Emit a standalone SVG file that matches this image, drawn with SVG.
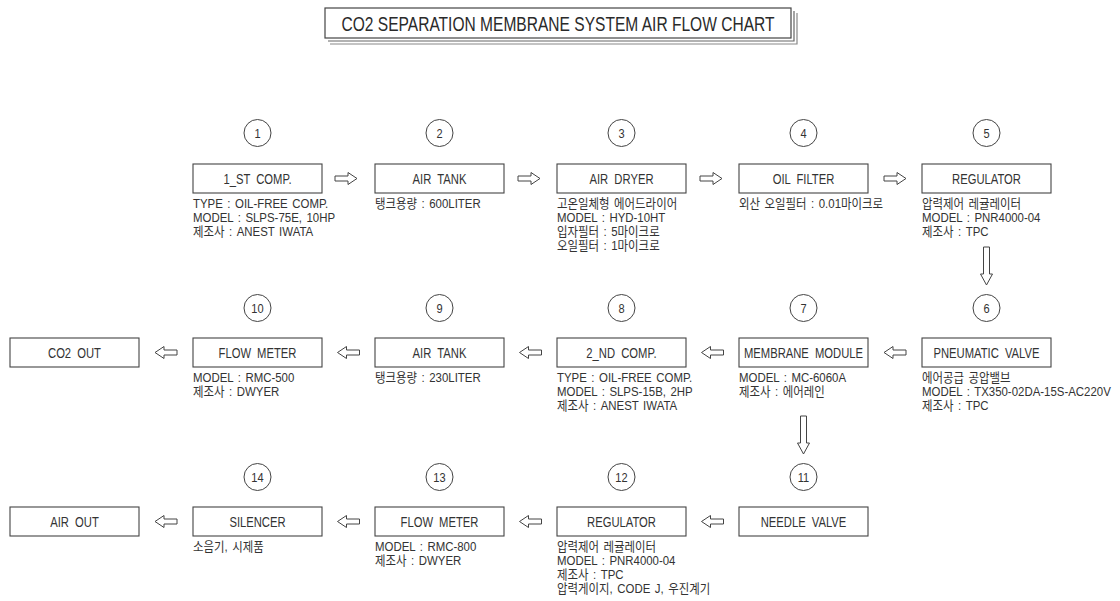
<svg xmlns="http://www.w3.org/2000/svg" xmlns:xlink="http://www.w3.org/1999/xlink" width="1120" height="601" viewBox="0 0 1120 601">
<style>
  text { font-family: "Liberation Sans", "Noto Sans CJK KR", sans-serif; fill: #333; }
  .box { fill: #fff; stroke: #444; stroke-width: 1.1; }
  .num { fill: #fff; stroke: #444; stroke-width: 1; }
  .lbl { font-size: 15px; text-anchor: middle; word-spacing: 4px; }
  .n { font-size: 13px; text-anchor: middle; }
  .det { font-size: 13px; word-spacing: 1.5px; }
  .arr { fill: #fff; stroke: #444; stroke-width: 1; stroke-linejoin: miter; }
  .title { font-size: 21px; text-anchor: middle; fill: #2a2a2a; }
</style>
<defs>
  <path id="arrowR" d="M-11,-2.5 H2 V-6 L11,0 L2,6 V2.5 H-11 Z"/>
  <path id="arrowD" d="M-3,-19 H3 V8 H6 L0,19 L-6,8 H-3 Z"/>
</defs>
<rect width="1120" height="601" fill="#fff"/>

<g id="title">
  <polyline points="328,41 794,41 794,11" fill="none" stroke="#666" stroke-width="1.2"/>
  <polyline points="330,44 797,44 797,13" fill="none" stroke="#888" stroke-width="1.2"/>
  <rect x="325" y="8" width="466" height="30" fill="#fff" stroke="#444" stroke-width="1.2"/>
  <text class="title" x="558" y="31" textLength="433" lengthAdjust="spacingAndGlyphs">CO2 SEPARATION MEMBRANE SYSTEM AIR FLOW CHART</text>
</g>

<g id="connectors">
  <use xlink:href="#arrowR" href="#arrowR" class="arr" transform="translate(346,178.5)"/>
  <use xlink:href="#arrowR" href="#arrowR" class="arr" transform="translate(529,178.5)"/>
  <use xlink:href="#arrowR" href="#arrowR" class="arr" transform="translate(711,178.5)"/>
  <use xlink:href="#arrowR" href="#arrowR" class="arr" transform="translate(895,178.5)"/>
  <use xlink:href="#arrowD" href="#arrowD" class="arr" transform="translate(986.5,266)"/>
  <use xlink:href="#arrowR" href="#arrowR" class="arr" transform="translate(895,352.5) rotate(180)"/>
  <use xlink:href="#arrowR" href="#arrowR" class="arr" transform="translate(712.5,352.5) rotate(180)"/>
  <use xlink:href="#arrowR" href="#arrowR" class="arr" transform="translate(530.5,352.5) rotate(180)"/>
  <use xlink:href="#arrowR" href="#arrowR" class="arr" transform="translate(348.5,352.5) rotate(180)"/>
  <use xlink:href="#arrowR" href="#arrowR" class="arr" transform="translate(166,352.5) rotate(180)"/>
  <use xlink:href="#arrowD" href="#arrowD" class="arr" transform="translate(803.5,435)"/>
  <use xlink:href="#arrowR" href="#arrowR" class="arr" transform="translate(712.5,521.5) rotate(180)"/>
  <use xlink:href="#arrowR" href="#arrowR" class="arr" transform="translate(530.5,521.5) rotate(180)"/>
  <use xlink:href="#arrowR" href="#arrowR" class="arr" transform="translate(348.5,521.5) rotate(180)"/>
  <use xlink:href="#arrowR" href="#arrowR" class="arr" transform="translate(166,521.5) rotate(180)"/>
</g>

<!-- Row 1 -->
<g id="n1">
  <circle class="num" cx="257.5" cy="133" r="13.5"/>
  <text class="n" transform="translate(257.5,138) scale(0.85,1)">1</text>
  <rect class="box" x="193" y="164" width="129" height="29"/>
  <text class="lbl" transform="translate(257.5,184) scale(0.75,1)">1_ST COMP.</text>
  <text class="det" transform="translate(193,208) scale(0.88,1)">TYPE : OIL-FREE COMP.</text>
  <text class="det" transform="translate(193,222) scale(0.88,1)">MODEL : SLPS-75E, 10HP</text>
  <text class="det" transform="translate(193,236) scale(0.88,1)">제조사 : ANEST IWATA</text>
</g>
<g id="n2">
  <circle class="num" cx="439.5" cy="133" r="13.5"/>
  <text class="n" transform="translate(439.5,138) scale(0.85,1)">2</text>
  <rect class="box" x="375" y="164" width="129" height="29"/>
  <text class="lbl" transform="translate(439.5,184) scale(0.75,1)">AIR TANK</text>
  <text class="det" transform="translate(375,208) scale(0.88,1)">탱크용량 : 600LITER</text>
</g>
<g id="n3">
  <circle class="num" cx="621.5" cy="133" r="13.5"/>
  <text class="n" transform="translate(621.5,138) scale(0.85,1)">3</text>
  <rect class="box" x="557" y="164" width="129" height="29"/>
  <text class="lbl" transform="translate(621.5,184) scale(0.75,1)">AIR DRYER</text>
  <text class="det" transform="translate(557,208) scale(0.88,1)">고온일체형 에어드라이어</text>
  <text class="det" transform="translate(557,222) scale(0.88,1)">MODEL : HYD-10HT</text>
  <text class="det" transform="translate(557,236) scale(0.88,1)">입자필터 : 5마이크로</text>
  <text class="det" transform="translate(557,250) scale(0.88,1)">오일필터 : 1마이크로</text>
</g>
<g id="n4">
  <circle class="num" cx="803.5" cy="133" r="13.5"/>
  <text class="n" transform="translate(803.5,138) scale(0.85,1)">4</text>
  <rect class="box" x="739" y="164" width="129" height="29"/>
  <text class="lbl" transform="translate(803.5,184) scale(0.75,1)">OIL FILTER</text>
  <text class="det" transform="translate(739,208) scale(0.88,1)">외산 오일필터 : 0.01마이크로</text>
</g>
<g id="n5">
  <circle class="num" cx="986.5" cy="133" r="13.5"/>
  <text class="n" transform="translate(986.5,138) scale(0.85,1)">5</text>
  <rect class="box" x="922" y="164" width="129" height="29"/>
  <text class="lbl" transform="translate(986.5,184) scale(0.75,1)">REGULATOR</text>
  <text class="det" transform="translate(922,208) scale(0.88,1)">압력제어 레귤레이터</text>
  <text class="det" transform="translate(922,222) scale(0.88,1)">MODEL : PNR4000-04</text>
  <text class="det" transform="translate(922,236) scale(0.88,1)">제조사 : TPC</text>
</g>

<!-- Row 2 -->
<g id="co2out">
  <rect class="box" x="10" y="338" width="129" height="29"/>
  <text class="lbl" transform="translate(74.5,358) scale(0.75,1)">CO2 OUT</text>
</g>
<g id="n10">
  <circle class="num" cx="257.5" cy="308" r="13.5"/>
  <text class="n" transform="translate(257.5,313) scale(0.85,1)">10</text>
  <rect class="box" x="193" y="338" width="129" height="29"/>
  <text class="lbl" transform="translate(257.5,358) scale(0.75,1)">FLOW METER</text>
  <text class="det" transform="translate(193,382) scale(0.88,1)">MODEL : RMC-500</text>
  <text class="det" transform="translate(193,396) scale(0.88,1)">제조사 : DWYER</text>
</g>
<g id="n9">
  <circle class="num" cx="439.5" cy="308" r="13.5"/>
  <text class="n" transform="translate(439.5,313) scale(0.85,1)">9</text>
  <rect class="box" x="375" y="338" width="129" height="29"/>
  <text class="lbl" transform="translate(439.5,358) scale(0.75,1)">AIR TANK</text>
  <text class="det" transform="translate(375,382) scale(0.88,1)">탱크용량 : 230LITER</text>
</g>
<g id="n8">
  <circle class="num" cx="621.5" cy="308" r="13.5"/>
  <text class="n" transform="translate(621.5,313) scale(0.85,1)">8</text>
  <rect class="box" x="557" y="338" width="129" height="29"/>
  <text class="lbl" transform="translate(621.5,358) scale(0.75,1)">2_ND COMP.</text>
  <text class="det" transform="translate(557,382) scale(0.88,1)">TYPE : OIL-FREE COMP.</text>
  <text class="det" transform="translate(557,396) scale(0.88,1)">MODEL : SLPS-15B, 2HP</text>
  <text class="det" transform="translate(557,410) scale(0.88,1)">제조사 : ANEST IWATA</text>
</g>
<g id="n7">
  <circle class="num" cx="803.5" cy="308" r="13.5"/>
  <text class="n" transform="translate(803.5,313) scale(0.85,1)">7</text>
  <rect class="box" x="739" y="338" width="129" height="29"/>
  <text class="lbl" transform="translate(803.5,358) scale(0.75,1)">MEMBRANE MODULE</text>
  <text class="det" transform="translate(739,382) scale(0.88,1)">MODEL : MC-6060A</text>
  <text class="det" transform="translate(739,396) scale(0.88,1)">제조사 : 에어레인</text>
</g>
<g id="n6">
  <circle class="num" cx="986.5" cy="308" r="13.5"/>
  <text class="n" transform="translate(986.5,313) scale(0.85,1)">6</text>
  <rect class="box" x="922" y="338" width="129" height="29"/>
  <text class="lbl" transform="translate(986.5,358) scale(0.75,1)">PNEUMATIC VALVE</text>
  <text class="det" transform="translate(922,382) scale(0.88,1)">에어공급 공압밸브</text>
  <text class="det" transform="translate(922,396) scale(0.88,1)">MODEL : TX350-02DA-15S-AC220V</text>
  <text class="det" transform="translate(922,410) scale(0.88,1)">제조사 : TPC</text>
</g>

<!-- Row 3 -->
<g id="airout">
  <rect class="box" x="10" y="507" width="129" height="29"/>
  <text class="lbl" transform="translate(74.5,527) scale(0.75,1)">AIR OUT</text>
</g>
<g id="n14">
  <circle class="num" cx="257.5" cy="477" r="13.5"/>
  <text class="n" transform="translate(257.5,482) scale(0.85,1)">14</text>
  <rect class="box" x="193" y="507" width="129" height="29"/>
  <text class="lbl" transform="translate(257.5,527) scale(0.75,1)">SILENCER</text>
  <text class="det" transform="translate(193,551) scale(0.88,1)">소음기, 시제품</text>
</g>
<g id="n13">
  <circle class="num" cx="439.5" cy="477" r="13.5"/>
  <text class="n" transform="translate(439.5,482) scale(0.85,1)">13</text>
  <rect class="box" x="375" y="507" width="129" height="29"/>
  <text class="lbl" transform="translate(439.5,527) scale(0.75,1)">FLOW METER</text>
  <text class="det" transform="translate(375,551) scale(0.88,1)">MODEL : RMC-800</text>
  <text class="det" transform="translate(375,565) scale(0.88,1)">제조사 : DWYER</text>
</g>
<g id="n12">
  <circle class="num" cx="621.5" cy="477" r="13.5"/>
  <text class="n" transform="translate(621.5,482) scale(0.85,1)">12</text>
  <rect class="box" x="557" y="507" width="129" height="29"/>
  <text class="lbl" transform="translate(621.5,527) scale(0.75,1)">REGULATOR</text>
  <text class="det" transform="translate(557,551) scale(0.88,1)">압력제어 레귤레이터</text>
  <text class="det" transform="translate(557,565) scale(0.88,1)">MODEL : PNR4000-04</text>
  <text class="det" transform="translate(557,579) scale(0.88,1)">제조사 : TPC</text>
  <text class="det" transform="translate(557,593) scale(0.88,1)">압력게이지, CODE J, 우진계기</text>
</g>
<g id="n11">
  <circle class="num" cx="803.5" cy="477" r="13.5"/>
  <text class="n" transform="translate(803.5,482) scale(0.85,1)">11</text>
  <rect class="box" x="739" y="507" width="129" height="29"/>
  <text class="lbl" transform="translate(803.5,527) scale(0.75,1)">NEEDLE VALVE</text>
</g>
</svg>
